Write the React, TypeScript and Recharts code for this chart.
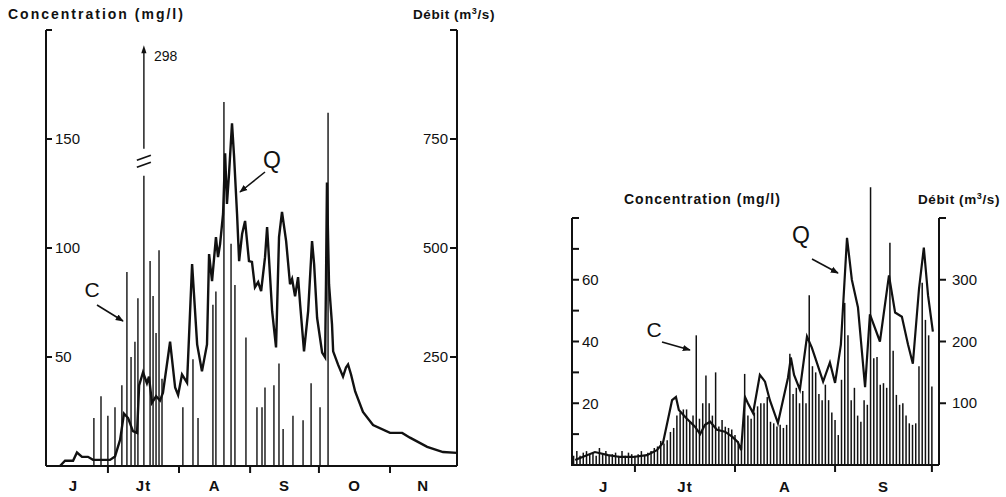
import React from "react";
import { ComposedChart, Bar, Line, XAxis, YAxis } from "recharts";

const FONT = '"Liberation Sans", Arial, Helvetica, sans-serif';
const INK = "#111";

// ---------- left panel : June - November (day 0 = 1 June) ----------
const monthNamesL = ["J", "Jt", "A", "S", "O", "N"];
const monthMidsL = [15, 45.5, 76.5, 107, 137.5, 167.5];
const monthStartsL = [30, 61, 92, 122, 153];

// discharge Q (m3/s)
const qDaysL = [
  9.1, 11.3, 14.8, 16.5, 18.7, 21.3, 23.5, 30.9, 33.1, 35.3, 37.0, 38.8, 40.9, 42.7, 43.6,
  45.3, 47.0, 47.9, 49.2, 51.0, 52.7, 54.0, 57.1, 59.3, 60.6, 62.3, 64.5, 66.7, 68.9, 71.0,
  73.2, 74.1, 75.4, 77.1, 78.0, 78.9, 80.2, 81.1, 81.9, 82.8, 84.1, 85.0, 86.3, 87.2, 88.5,
  89.8, 91.5, 92.8, 94.1, 95.5, 96.8, 98.5, 99.4, 101.6, 103.3, 104.6, 105.9, 107.7, 109.4,
  110.3, 111.6, 112.9, 113.8, 115.5, 117.3, 119.0, 119.9, 121.2, 123.4, 124.7, 125.1, 125.5,
  126.4, 127.7, 128.2, 130.3, 132.5, 133.8, 134.7, 136.0, 137.8, 141.2, 145.6, 153.0, 158.3,
  161.7, 169.2, 176.1, 182.2,
];
const qValuesL = [
  0, 12, 12, 31, 21, 21, 14, 14, 22, 60, 120, 110, 80, 76, 185,
  215, 190, 205, 145, 160, 150, 168, 285, 180, 163, 210, 191, 463, 279, 217,
  279, 486, 424, 525, 479, 509, 578, 717, 601, 670, 786, 710, 578, 470, 532,
  562, 470, 468, 410, 422, 401, 479, 548, 355, 272, 525, 583, 516, 417,
  429, 389, 433, 371, 263, 355, 516, 463, 340, 260, 249, 433, 650,
  417, 325, 263, 233, 205, 226, 233, 210, 171, 124, 94, 76, 76,
  65, 44, 32, 30,
];

// concentration C (mg/l), individual samples
const cDaysL = [
  23.9, 27.0, 30.0, 33.1, 36.1, 38.3, 40.1, 41.8, 43.1, 45.7, 48.4, 49.7, 51.0, 52.3, 53.6,
  62.7, 67.1, 69.3, 75.8, 77.1, 80.6, 83.7, 85.4, 90.2, 95.0, 97.2, 98.5, 102.4, 104.6, 106.4,
  110.7, 115.1, 118.6, 122.5, 126.0,
];
const cValuesL = [
  22, 32, 23, 27, 37, 89, 50, 57, 77, 298, 94, 78, 61, 99, 40,
  27, 49, 22, 74, 80, 167, 102, 83, 59, 27, 27, 36, 37, 47, 17,
  23, 21, 38, 27, 162,
];
const C_CAP_L = 193; // off-scale samples are drawn broken, up to this level

// ---------- right panel : June - September ----------
const monthNamesR = ["J", "Jt", "A", "S"];
const monthMidsR = [20.3, 45.5, 76.5, 107];
const monthStartsR = [30, 61, 92, 122];

const qDaysR = [
  11.5, 12.4, 17.6, 21.7, 25.4, 29.4, 33.7, 36.8, 38.7, 40.2, 41.5, 42.7, 43.6, 46.1, 48.6,
  50.2, 51.7, 53.3, 55.4, 57.9, 60.1, 61.9, 62.9, 64.1, 65.0, 66.6, 68.7, 70.3, 71.8, 74.3,
  77.4, 78.3, 79.3, 81.1, 83.3, 84.8, 86.1, 88.3, 90.4, 92.0, 93.8, 95.7, 97.2, 99.1, 101.3,
  102.8, 105.9, 108.7, 110.6, 112.7, 114.6, 116.1, 118.0, 119.5, 120.8, 122.3,
];
const qValuesR = [
  8, 10, 21, 16, 13, 13, 16, 24, 36, 73, 105, 110, 89, 75, 62,
  50, 65, 70, 57, 54, 46, 37, 24, 110, 100, 84, 146, 135, 105, 68,
  141, 174, 146, 122, 208, 190, 170, 135, 166, 133, 195, 368, 300, 255, 126,
  244, 200, 307, 247, 240, 195, 164, 285, 352, 275, 216,
];

// daily concentration from 11 June
const cFirstDayR = 11;
const cValuesR = [
  3, 4.5, 3, 4, 4.5, 3.5, 4, 3, 5.5, 3.5, 4.5, 3, 3.5, 4, 3, 4.5, 3, 4, 3.5,
  3, 3.5, 4.5, 3, 4, 4.5, 5.5, 6, 7.8, 7, 8, 10.7, 12, 16, 17, 18, 18, 14, 16, 42,
  15, 20, 29, 20, 16, 30, 12.5, 14.6, 12.4, 12, 11.5, 9.7, 7.6, 6, 29.5, 16, 15, 17,
  19, 20, 20, 22, 14, 13.5, 12.5, 13, 12, 13, 36, 23, 25, 20, 24, 20, 55, 32, 30,
  23, 21, 26, 21, 17, 14.6, 9.7, 27.6, 52.5, 42, 21, 25, 16, 14, 21, 19.5, 90, 34.6,
  35, 26, 26.5, 25, 72, 37, 22.7, 19.5, 20, 16, 13.5, 13, 13.5, 32, 59, 47, 42, 25.4,
];
const cDaysR = cValuesR.map((_, i) => cFirstDayR + i);
const C_TOP_R = 80; // top of the concentration axis; one sample pokes above it

type Row = { day: number; q?: number; c?: number; cShown?: number };

function buildRows(qDays: number[], qValues: number[], cDays: number[], cValues: number[], cap: number) {
  const byDay = new Map<number, Row>();
  const get = (d: number) => {
    if (!byDay.has(d)) byDay.set(d, { day: d });
    return byDay.get(d)!;
  };
  qDays.forEach((d, i) => (get(d).q = qValues[i]));
  cDays.forEach((d, i) => {
    const r = get(d);
    r.c = cValues[i];
    r.cShown = Math.min(cValues[i], cap);
  });
  return Array.from(byDay.values()).sort((a, b) => a.day - b.day);
}

const rowsL = buildRows(qDaysL, qValuesL, cDaysL, cValuesL, C_CAP_L);
const rowsR = buildRows(qDaysR, qValuesR, cDaysR, cValuesR, C_TOP_R);

function Stick(props: any) {
  const { x, y, width, height, payload, sw, broken } = props;
  if (!payload || payload.c == null || !(height > 0)) return null;
  const cx = x + width / 2;
  const bottom = y + height;
  if (payload.c <= payload.cShown) {
    return <line x1={cx} x2={cx} y1={y} y2={bottom} stroke={INK} strokeWidth={sw} />;
  }
  if (!broken) {
    // just let the stem run past the axis top, same scale
    const top = bottom - (height * payload.c) / payload.cShown;
    return <line x1={cx} x2={cx} y1={top} y2={bottom} stroke={INK} strokeWidth={sw} />;
  }
  // off-scale sample: broken stem with arrow and true value
  const gapLow = bottom - height * 0.69;
  const gapHigh = bottom - height * 0.754;
  const mid = (gapLow + gapHigh) / 2;
  return (
    <g>
      <line x1={cx} x2={cx} y1={gapLow} y2={bottom} stroke={INK} strokeWidth={sw} />
      <line x1={cx} x2={cx} y1={y + 6} y2={gapHigh} stroke={INK} strokeWidth={sw} />
      <path d={`M${cx},${y} l-2.6,8 h5.2 z`} fill={INK} />
      <line x1={cx - 7} y1={mid - 2} x2={cx + 7} y2={mid - 7} stroke={INK} strokeWidth={1.8} />
      <line x1={cx - 7} y1={mid + 5} x2={cx + 7} y2={mid} stroke={INK} strokeWidth={1.8} />
      <text x={cx + 10} y={y + 16} fontFamily={FONT} fontSize={14} fill={INK}>
        {payload.c}
      </text>
    </g>
  );
}

function monthTick(starts: number[], mids: number[], names: string[], dy: number) {
  return (props: any) => {
    const { x, y, payload } = props;
    const v = payload.value;
    if (starts.includes(v)) {
      return <line x1={x} x2={x} y1={y} y2={y + 7} stroke={INK} strokeWidth={2} />;
    }
    const i = mids.indexOf(v);
    return (
      <text x={x} y={y + dy} textAnchor="middle" fontFamily={FONT} fontSize={15} fontWeight="bold" fill={INK} letterSpacing={1}>
        {names[i] ?? ""}
      </text>
    );
  };
}

// right-hand axis of the right panel: ticks and labels point outwards
function outerRightTick(shown: number[]) {
  return (props: any) => {
    const { x, y, payload } = props;
    const v = payload.value;
    return (
      <g>
        <line x1={x} x2={x + 7} y1={y} y2={y} stroke={INK} strokeWidth={2} />
        {shown.includes(v) && (
          <text x={x + 13} y={y + 5} fontFamily={FONT} fontSize={15} fill={INK}>
            {v}
          </text>
        )}
      </g>
    );
  };
}

const labelOnly = (shown: number[]) => (v: number) => (shown.includes(v) ? String(v) : "");
const tickStyle = { fill: INK, fontSize: 15, fontFamily: FONT };
const axisLineStyle = { stroke: INK, strokeWidth: 2 };

function LeftPanel() {
  return (
    <ComposedChart width={540} height={497} data={rowsL} margin={{ top: 30, right: 83, bottom: 6, left: 46 }}>
      <XAxis
        dataKey="day"
        type="number"
        domain={[3, 182.2]}
        ticks={[...monthStartsL, ...monthMidsL]}
        interval={0}
        tickSize={0}
        tickMargin={0}
        tickLine={false}
        axisLine={axisLineStyle}
        tick={monthTick(monthStartsL, monthMidsL, monthNamesL, 25)}
        height={25}
      />
      <YAxis
        yAxisId="c"
        orientation="left"
        mirror
        domain={[0, 200]}
        ticks={[50, 100, 150, 200]}
        tickFormatter={labelOnly([50, 100, 150])}
        tickSize={6}
        tickMargin={3}
        stroke={INK}
        axisLine={axisLineStyle}
        tickLine={axisLineStyle}
        tick={tickStyle}
      />
      <YAxis
        yAxisId="q"
        orientation="right"
        mirror
        domain={[0, 1000]}
        ticks={[250, 500, 750, 1000]}
        tickFormatter={labelOnly([250, 500, 750])}
        tickSize={7}
        tickMargin={2}
        stroke={INK}
        axisLine={axisLineStyle}
        tickLine={axisLineStyle}
        tick={tickStyle}
      />
      <Bar yAxisId="c" dataKey="cShown" barSize={2} isAnimationActive={false} shape={(p: any) => <Stick {...p} sw={1.4} broken />} />
      <Line yAxisId="q" dataKey="q" type="linear" stroke={INK} strokeWidth={2.4} dot={false} connectNulls isAnimationActive={false} />
    </ComposedChart>
  );
}

function RightPanel() {
  return (
    <ComposedChart width={466} height={497} data={rowsR} margin={{ top: 218, right: 67, bottom: 7, left: 32 }}>
      <XAxis
        dataKey="day"
        type="number"
        domain={[10.5, 124.2]}
        ticks={[...monthStartsR, ...monthMidsR]}
        interval={0}
        tickSize={0}
        tickMargin={0}
        tickLine={false}
        axisLine={axisLineStyle}
        tick={monthTick(monthStartsR, monthMidsR, monthNamesR, 27)}
        height={25}
      />
      <YAxis
        yAxisId="c"
        orientation="left"
        mirror
        domain={[0, C_TOP_R]}
        ticks={[10, 20, 30, 40, 50, 60, 70, 80]}
        tickFormatter={labelOnly([20, 40, 60])}
        tickSize={7}
        tickMargin={3}
        stroke={INK}
        axisLine={axisLineStyle}
        tickLine={axisLineStyle}
        tick={tickStyle}
      />
      <YAxis
        yAxisId="q"
        orientation="right"
        mirror
        domain={[0, 400]}
        ticks={[100, 200, 300, 400]}
        tickSize={0}
        tickMargin={0}
        stroke={INK}
        axisLine={axisLineStyle}
        tickLine={false}
        tick={outerRightTick([100, 200, 300])}
      />
      <Bar yAxisId="c" dataKey="cShown" barSize={1} isAnimationActive={false} shape={(p: any) => <Stick {...p} sw={1.5} />} />
      <Line yAxisId="q" dataKey="q" type="linear" stroke={INK} strokeWidth={2.2} dot={false} connectNulls isAnimationActive={false} />
    </ComposedChart>
  );
}

function Annotations() {
  const t = { fontFamily: FONT, fill: INK };
  return (
    <svg width={1006} height={497} style={{ position: "absolute", left: 0, top: 0, pointerEvents: "none" }}>
      <defs>
        <marker id="ah" viewBox="0 0 10 10" refX="9" refY="5" markerWidth="8" markerHeight="8" markerUnits="userSpaceOnUse" orient="auto">
          <path d="M0,1 L10,5 L0,9 z" fill={INK} />
        </marker>
      </defs>
      {/* left panel */}
      <text x={8} y={19} fontSize={14} fontWeight="bold" letterSpacing={2} {...t}>Concentration (mg/l)</text>
      <text x={413} y={19} fontSize={13.5} fontWeight="bold" letterSpacing={0.6} {...t}>
        Débit (m<tspan dy={-5} fontSize={9}>3</tspan>
        <tspan dy={5}>/s)</tspan>
      </text>
      <text x={92} y={297} fontSize={21} textAnchor="middle" {...t}>C</text>
      <line x1={97} y1={305} x2={123} y2={321} stroke={INK} strokeWidth={1.6} markerEnd="url(#ah)" />
      <text x={272} y={168} fontSize={23} textAnchor="middle" {...t}>Q</text>
      <line x1={265} y1={172} x2={240} y2={192} stroke={INK} strokeWidth={1.6} markerEnd="url(#ah)" />
      {/* right panel */}
      {/* left axis line of the right panel, redrawn on top */}
      <line x1={572} y1={218} x2={572} y2={466} stroke={INK} strokeWidth={2} />
      <text x={624} y={204} fontSize={14} fontWeight="bold" letterSpacing={1} {...t}>Concentration (mg/l)</text>
      <text x={918} y={204} fontSize={13.5} fontWeight="bold" letterSpacing={0.6} {...t}>
        Débit (m<tspan dy={-5} fontSize={9}>3</tspan>
        <tspan dy={5}>/s)</tspan>
      </text>
      <text x={801} y={243} fontSize={23} textAnchor="middle" {...t}>Q</text>
      <line x1={812} y1={259} x2={838} y2={273} stroke={INK} strokeWidth={1.6} markerEnd="url(#ah)" />
      <text x={654} y={337} fontSize={21} textAnchor="middle" {...t}>C</text>
      <line x1={662} y1={342} x2={690} y2={350} stroke={INK} strokeWidth={1.6} markerEnd="url(#ah)" />
    </svg>
  );
}

export default function App() {
  return (
    <div style={{ position: "absolute", left: 0, top: 0, width: 1006, height: 497, background: "#fff", overflow: "hidden" }}>
      <div style={{ position: "absolute", left: 0, top: 0 }}>
        <LeftPanel />
      </div>
      <div style={{ position: "absolute", left: 540, top: 0 }}>
        <RightPanel />
      </div>
      <Annotations />
    </div>
  );
}
